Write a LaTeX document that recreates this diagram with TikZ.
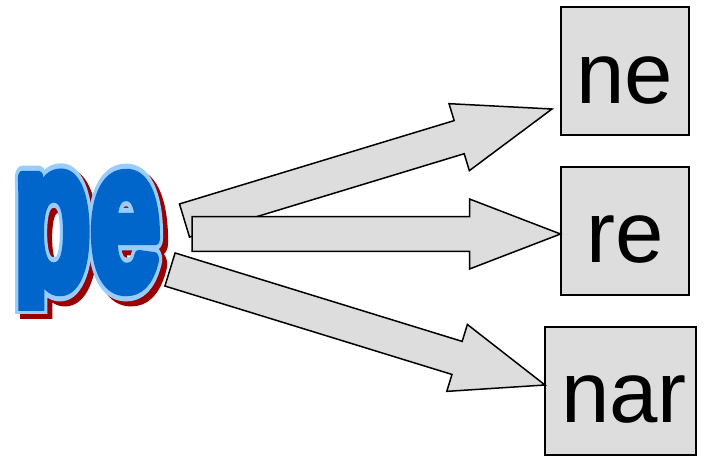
\documentclass[tikz,border=0pt]{standalone}
\usepackage{fontspec}
\setmainfont{Liberation Sans}
\usetikzlibrary{calc}
\newfontfamily\wafill{Liberation Sans Bold}[RawFeature={embolden=7}]
\newfontfamily\waline{Liberation Sans Bold}[RawFeature={embolden=12}]
\definecolor{wablue}{HTML}{0066CC}
\definecolor{walight}{HTML}{99CCFF}
\definecolor{wared}{HTML}{990000}
\definecolor{boxgray}{HTML}{DDDDDD}
\tikzset{
 wordart/.style={anchor=base west, inner sep=0pt, outer sep=0pt},
 wordbox/.style={draw=black, line width=2pt, fill=boxgray, minimum width=128pt, minimum height=128pt, inner sep=0pt, font=\fontsize{87}{87}\selectfont, text depth=0pt},
 barrow/.style={draw=black, line width=1.5pt, fill=boxgray, line join=miter},
}
\newcommand\blockarrow[3]{%
  \path ($(#2)!#3!(#1)$) coordinate (ab);
  \filldraw[barrow] ($(#1)!17.3pt!90:(#2)$) -- ($(ab)!17.3pt!90:(#2)$) -- ($(ab)!35pt!90:(#2)$) -- (#2) -- ($(ab)!35pt!-90:(#2)$) -- ($(ab)!17.3pt!-90:(#2)$) -- ($(#1)!17.3pt!-90:(#2)$) -- cycle;
}
\begin{document}
\begin{tikzpicture}[x=1pt,y=-1pt]
\useasboundingbox[fill=white] (0,0) rectangle (705,458);
% WordArt "pe": shadow, outline, fill
\begin{scope}[line join=round]
 \clip (0,0) rectangle (300,318);
 \node[wordart, text=wared] (peshadow) at (19,292) {\scalebox{1}[1.65]{\waline\fontsize{125}{125}\selectfont pe}};
\end{scope}
\begin{scope}[line join=round]
 \clip (0,0) rectangle (300,313);
 \node[wordart, text=walight] (peline) at (14,287) {\scalebox{1}[1.65]{\waline\fontsize{125}{125}\selectfont pe}};
\end{scope}
\begin{scope}[line join=round]
 \clip (0,0) rectangle (300,310);
 \node[wordart, text=wablue] (pe) at (14,287) {\scalebox{1}[1.65]{\wafill\fontsize{125}{125}\selectfont pe}};
\end{scope}
% boxes
\node[wordbox, text height=63.7pt] (ne) at (624.85,71.15) {ne};
\node[wordbox, text height=62.3pt] (re) at (624.85,230.85) {re};
\node[wordbox, minimum width=151pt, text height=62pt] (nar) at (620.5,391) {\kern7pt nar};
% arrows
\coordinate (t1) at (184.5,220.5); \coordinate (h1) at (552,109);
\coordinate (t2) at (192,234);     \coordinate (h2) at (560.5,234);
\coordinate (t3) at (170,269.5);   \coordinate (h3) at (545,385);
\blockarrow{t1}{h1}{97pt}
\blockarrow{t2}{h2}{91pt}
\blockarrow{t3}{h3}{92pt}
\end{tikzpicture}
\end{document}
